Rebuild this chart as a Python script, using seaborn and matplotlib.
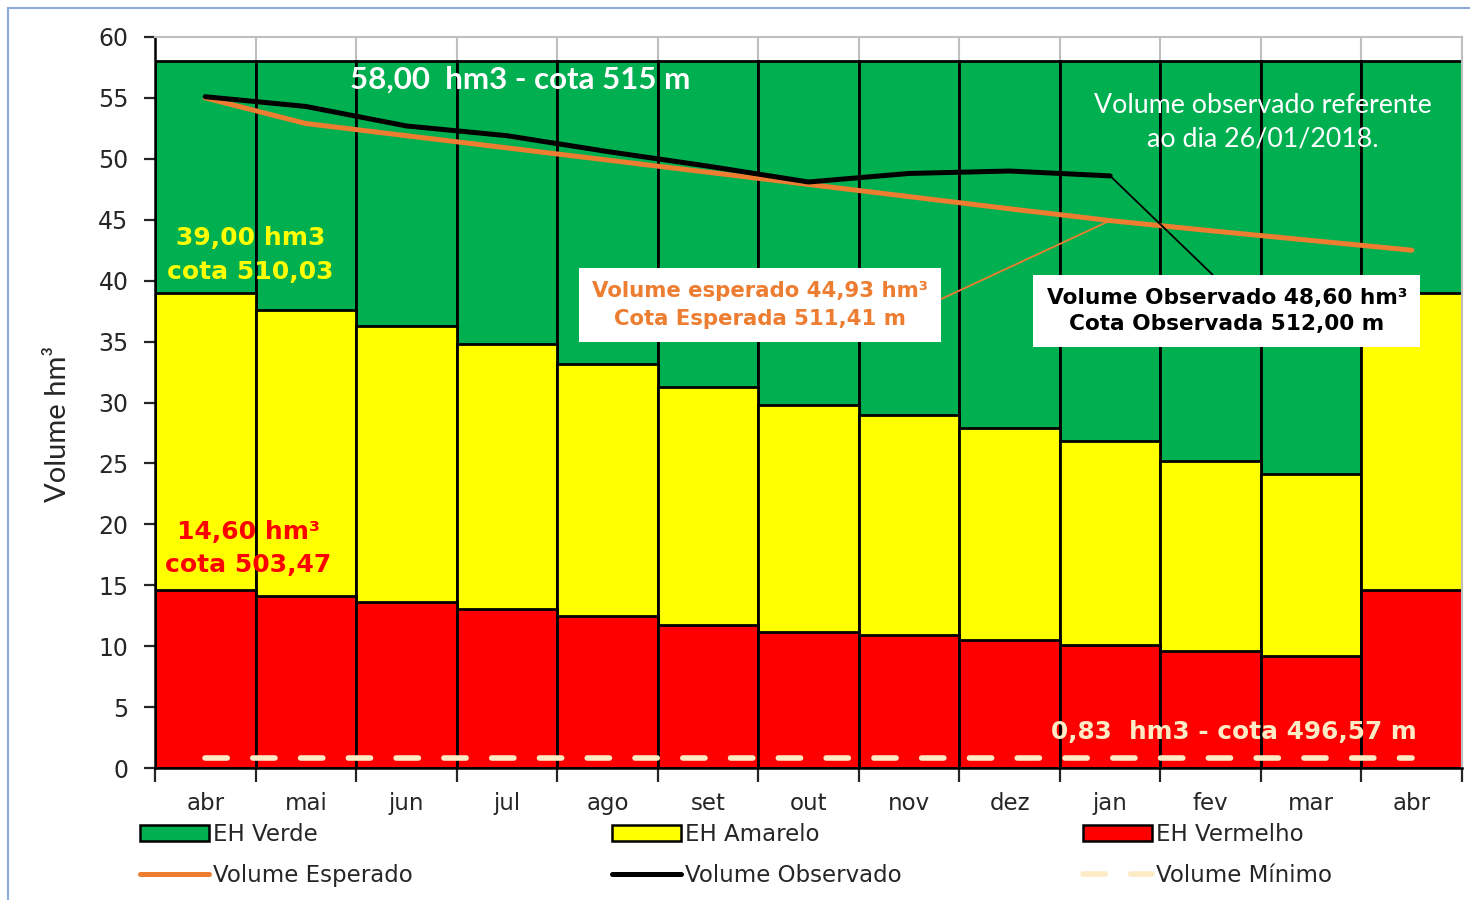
import matplotlib
matplotlib.use("Agg")
import matplotlib.pyplot as plt
from matplotlib.patches import Patch, Rectangle
from matplotlib.lines import Line2D
import seaborn as sns

# dados (hm3)
meses = ["abr", "mai", "jun", "jul", "ago", "set", "out", "nov", "dez", "jan", "fev", "mar", "abr"]
eh_verde = [58.0] * 13
eh_amarelo = [39.0, 37.6, 36.3, 34.8, 33.2, 31.3, 29.8, 29.0, 27.9, 26.8, 25.2, 24.1, 39.0]
eh_vermelho = [14.6, 14.1, 13.6, 13.05, 12.5, 11.75, 11.2, 10.9, 10.5, 10.1, 9.6, 9.2, 14.6]
vol_esperado = [55.0, 52.9, 51.9, 50.9, 49.9, 48.9, 47.9, 46.9, 45.9, 44.93, 44.1, 43.3, 42.5]
vol_observado = [55.1, 54.3, 52.7, 51.9, 50.6, 49.4, 48.1, 48.8, 49.0, 48.6]
vol_minimo = [0.83] * 13

pos = list(range(len(meses)))

VERDE = "#00B050"
AMARELO = "#FFFF00"
VERMELHO = "#FF0000"
LARANJA = "#ED7D31"
CREME = "#FDEBC6"

sns.set_style("white")
plt.rcParams["font.family"] = ["DejaVu Sans"]

fig = plt.figure(figsize=(14.7, 9), dpi=100)
ax = fig.add_axes([155 / 1470, 1 - 768 / 900, (1462 - 155) / 1470, (768 - 37) / 900])

# barras empilhadas (desenhadas por cima umas das outras)
for vals, cor in [(eh_verde, VERDE), (eh_amarelo, AMARELO), (eh_vermelho, VERMELHO)]:
    sns.barplot(x=pos, y=vals, color=cor, saturation=1, width=1, errorbar=None,
                edgecolor="black", linewidth=2, ax=ax)

# linhas
sns.lineplot(x=pos, y=vol_minimo, color=CREME, lw=4, ax=ax)
ax.lines[-1].set_dashes((4, 4.6))
ax.lines[-1].set_dash_capstyle("round")
sns.lineplot(x=pos, y=vol_esperado, color=LARANJA, lw=3.6, ax=ax, solid_capstyle="round")
sns.lineplot(x=pos[:len(vol_observado)], y=vol_observado, color="black", lw=3.6, ax=ax,
             solid_capstyle="round")

ax.set_xlim(-0.5, len(meses) - 0.5)
ax.set_ylim(0, 60)
ax.set_yticks(range(0, 61, 5))
ax.tick_params(axis="y", direction="out", length=8, width=1.6, labelsize=17, pad=11, left=True)

# ticks nas divisas dos meses, rotulos no centro
ax.set_xticks([p - 0.5 for p in pos] + [pos[-1] + 0.5])
ax.set_xticklabels([])
ax.set_xticks(pos, minor=True)
ax.set_xticklabels(meses, minor=True, fontsize=16.5)
ax.tick_params(axis="x", which="major", direction="out", length=10, width=1.6, bottom=True)
ax.tick_params(axis="x", which="minor", length=0, pad=17)

ax.grid(axis="x", which="major", color="#BFBFBF", lw=1.5)
ax.set_axisbelow(True)
for s in ["left", "bottom"]:
    ax.spines[s].set_color("black")
    ax.spines[s].set_linewidth(1.8)
for s in ["top", "right"]:
    ax.spines[s].set_color("#BFBFBF")
    ax.spines[s].set_linewidth(1.5)

ax.set_ylabel("Volume hm³", fontsize=21, family="Lato")
ax.yaxis.set_label_coords(-0.064, 0.47)
ax.set_xlabel("")

# textos
ax.text(3.13, 56.5, "58,00  hm3 - cota 515 m", color="white", fontsize=22.5,
        fontweight="bold", family="Lato", ha="center", va="center")
ax.text(10.52, 53.0, "Volume observado referente\nao dia 26/01/2018.", color="white",
        fontsize=19.3, family="Lato", ha="center", va="center", linespacing=1.4)
ax.text(0.45, 42.1, "39,00 hm3\ncota 510,03", color=AMARELO, fontsize=18,
        fontweight="bold", ha="center", va="center", linespacing=1.5)
ax.text(0.43, 18.0, "14,60 hm³\ncota 503,47", color=VERMELHO, fontsize=18,
        fontweight="bold", ha="center", va="center", linespacing=1.5)
ax.text(10.23, 2.95, "0,83  hm3 - cota 496,57 m", color=CREME, fontsize=17.8,
        fontweight="bold", ha="center", va="center")

ax.annotate("Volume esperado 44,93 hm³\nCota Esperada 511,41 m",
            xy=(9, vol_esperado[9]), xytext=(5.52, 38.0),
            ha="center", va="center", color=LARANJA, fontsize=15.3, fontweight="bold",
            linespacing=1.45,
            bbox=dict(boxstyle="square,pad=0.62", fc="white", ec="none"),
            arrowprops=dict(arrowstyle="-", color=LARANJA, lw=1.3, relpos=(1, 0.5),
                            shrinkA=0, shrinkB=0))
ax.annotate("Volume Observado 48,60 hm³\nCota Observada 512,00 m",
            xy=(9, vol_observado[9]), xytext=(10.16, 37.5),
            ha="center", va="center", color="black", fontsize=15.6, fontweight="bold",
            linespacing=1.35,
            bbox=dict(boxstyle="square,pad=0.62", fc="white", ec="none"),
            arrowprops=dict(arrowstyle="-", color="black", lw=1.3, relpos=(0.5, 1),
                            shrinkA=0, shrinkB=0))

# legenda: tres colunas, uma legenda por coluna
colunas = [
    (140, [Patch(facecolor=VERDE, edgecolor="black", lw=1.8),
           Line2D([], [], color=LARANJA, lw=3.6)],
     ["EH Verde", "Volume Esperado"]),
    (612, [Patch(facecolor=AMARELO, edgecolor="black", lw=1.8),
           Line2D([], [], color="black", lw=3.6)],
     ["EH Amarelo", "Volume Observado"]),
    (1083, [Patch(facecolor=VERMELHO, edgecolor="black", lw=1.8),
            Line2D([], [], color=CREME, lw=4, dashes=(4, 4.6), dash_capstyle="round")],
     ["EH Vermelho", "Volume Mínimo"]),
]
for x0, hs, ls in colunas:
    fig.legend(hs, ls, loc="upper left", bbox_to_anchor=(x0 / 1470, 1 - 823 / 900),
               frameon=False, fontsize=16.5, handlelength=3.0, handleheight=0.75,
               handletextpad=0.2, labelspacing=0.78, borderaxespad=0, borderpad=0)

# moldura azul do grafico
fig.patches.append(Rectangle((8 / 1470, -0.05), 1.1, 1 - 8 / 900 + 0.05,
                             transform=fig.transFigure, fill=False,
                             edgecolor="#8EA9DB", lw=1.5))

fig.savefig("out.png", dpi=100)
